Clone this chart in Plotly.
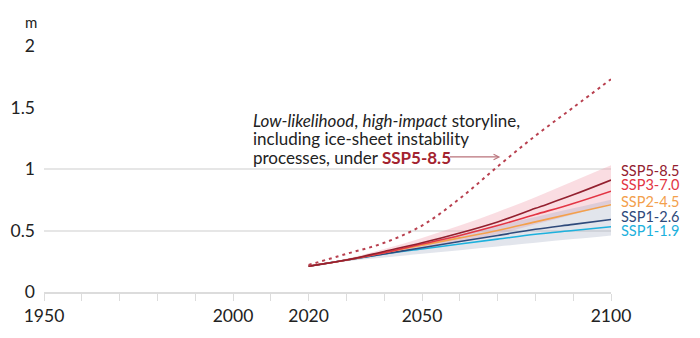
import plotly.graph_objects as go

years = [2020, 2030, 2040, 2050, 2060, 2070, 2080, 2090, 2100]

ssp119 = [0.21, 0.26, 0.31, 0.35, 0.39, 0.43, 0.47, 0.50, 0.53]
ssp126 = [0.21, 0.26, 0.31, 0.36, 0.41, 0.46, 0.51, 0.55, 0.59]
ssp245 = [0.21, 0.26, 0.32, 0.38, 0.44, 0.50, 0.57, 0.64, 0.71]
ssp370 = [0.21, 0.26, 0.32, 0.39, 0.46, 0.54, 0.63, 0.72, 0.82]
ssp585 = [0.21, 0.26, 0.33, 0.40, 0.48, 0.57, 0.68, 0.79, 0.91]

band585_lo = [0.21, 0.25, 0.30, 0.35, 0.41, 0.47, 0.55, 0.63, 0.72]
band585_hi = [0.21, 0.27, 0.35, 0.44, 0.54, 0.65, 0.77, 0.90, 1.03]
band126_lo = [0.21, 0.25, 0.28, 0.31, 0.34, 0.37, 0.40, 0.43, 0.46]
band126_hi = [0.21, 0.27, 0.33, 0.40, 0.47, 0.54, 0.61, 0.68, 0.75]

storyline = [0.22, 0.31, 0.40, 0.54, 0.76, 1.02, 1.27, 1.50, 1.73]

scenario_names = ["SSP5-8.5", "SSP3-7.0", "SSP2-4.5", "SSP1-2.6", "SSP1-1.9"]
scenario_values = [ssp585, ssp370, ssp245, ssp126, ssp119]
scenario_colors = ["#93202f", "#e33544", "#f3a04c", "#2f4a7b", "#1db1dd"]
label_y = [0.99, 0.872, 0.738, 0.614, 0.50]

story_lines = [
    "<i>Low-likelihood</i>, <i>high-impact</i> storyline,",
    "including ice-sheet instability",
    "processes, under <b><span style='color:#a3232f'>SSP5-8.5</span></b>",
]
story_line_y = [1.397, 1.244, 1.091]

x_tickvals = list(range(1950, 2101, 10))
x_labels = {1950: "1950", 2000: "2000", 2020: "2020", 2050: "2050", 2100: "2100"}
y_tickvals = [0, 0.5, 1, 1.5, 2]
y_ticktext = ["0", "0.5", "1", "1.5", "2"]

FONT = "Lato, 'Open Sans', sans-serif"

fig = go.Figure()

# SSP5-8.5 likely range
fig.add_trace(go.Scatter(x=years, y=band585_lo, mode="lines", line=dict(width=0, shape="spline"),
                         hoverinfo="skip", showlegend=False))
fig.add_trace(go.Scatter(x=years, y=band585_hi, mode="lines", line=dict(width=0, shape="spline"),
                         fill="tonexty", fillcolor="rgba(240,150,165,0.32)", hoverinfo="skip", showlegend=False))
# SSP1-2.6 likely range
fig.add_trace(go.Scatter(x=years, y=band126_lo, mode="lines", line=dict(width=0, shape="spline"),
                         hoverinfo="skip", showlegend=False))
fig.add_trace(go.Scatter(x=years, y=band126_hi, mode="lines", line=dict(width=0, shape="spline"),
                         fill="tonexty", fillcolor="rgba(150,162,185,0.28)", hoverinfo="skip", showlegend=False))

for name, vals, col in reversed(list(zip(scenario_names, scenario_values, scenario_colors))):
    fig.add_trace(go.Scatter(x=years, y=vals, mode="lines", name=name,
                             line=dict(color=col, width=1.6, shape="spline"), showlegend=False))

fig.add_trace(go.Scatter(x=years, y=storyline, mode="lines", name="storyline",
                         line=dict(color="#b8404f", width=2, dash="3px,4px", shape="spline"),
                         showlegend=False))

# grid overlay axis (only 0.5 and 1)
fig.add_trace(go.Scatter(x=[1950], y=[0], yaxis="y2", mode="markers", marker=dict(opacity=0),
                         hoverinfo="skip", showlegend=False))

annotations = []
for name, col, ly in zip(scenario_names, scenario_colors, label_y):
    annotations.append(dict(x=2100, y=ly, xref="x", yref="y", text=name, showarrow=False,
                            xanchor="left", yanchor="middle", xshift=9, borderpad=0,
                            font=dict(family=FONT, size=14.5, color=col)))

for txt, ty in zip(story_lines, story_line_y):
    annotations.append(dict(x=2005.0, y=ty, xref="x", yref="y", xanchor="left", yanchor="middle",
                            align="left", showarrow=False, text=txt, borderpad=0,
                            font=dict(family=FONT, size=17, color="#222222")))

annotations.append(dict(x=2070.7, y=1.098, ax=2057.0, ay=1.098, xref="x", yref="y", axref="x", ayref="y",
                        text="", showarrow=True, arrowhead=5, arrowsize=0.9, arrowwidth=1.2,
                        arrowcolor="#b9737b"))

annotations.append(dict(x=0, y=1, xref="paper", yref="paper", xshift=-13, yshift=24,
                        text="m", showarrow=False, xanchor="center", yanchor="middle",
                        font=dict(family=FONT, size=15, color="#222222")))

fig.update_layout(
    width=700, height=338,
    margin=dict(l=44, r=89, t=46, b=46),
    plot_bgcolor="white", paper_bgcolor="white",
    font=dict(family=FONT, size=17, color="#222222"),
    xaxis=dict(range=[1950, 2100], tickvals=x_tickvals,
               ticktext=[x_labels.get(v, "") for v in x_tickvals],
               showgrid=False, zeroline=False, showline=True, linecolor="#dcdcdc", linewidth=1.5,
               ticks="outside", ticklen=7, tickcolor="#dcdcdc", tickwidth=1.2,
               tickfont=dict(family=FONT, size=17.5, color="#222222"), fixedrange=True),
    yaxis=dict(range=[0, 2], tickvals=y_tickvals, ticktext=y_ticktext, showgrid=False,
               zeroline=False, showline=False, ticks="", ticklabelstandoff=8,
               tickfont=dict(family=FONT, size=17.5, color="#222222")),
    yaxis2=dict(range=[0, 2], overlaying="y", tickvals=[0.5, 1], showticklabels=False,
                showgrid=True, gridcolor="#e6e6e6", gridwidth=2, zeroline=False, showline=False,
                ticks="", layer="below traces"),
    annotations=annotations,
    showlegend=False,
)

fig.write_html("out.html")
